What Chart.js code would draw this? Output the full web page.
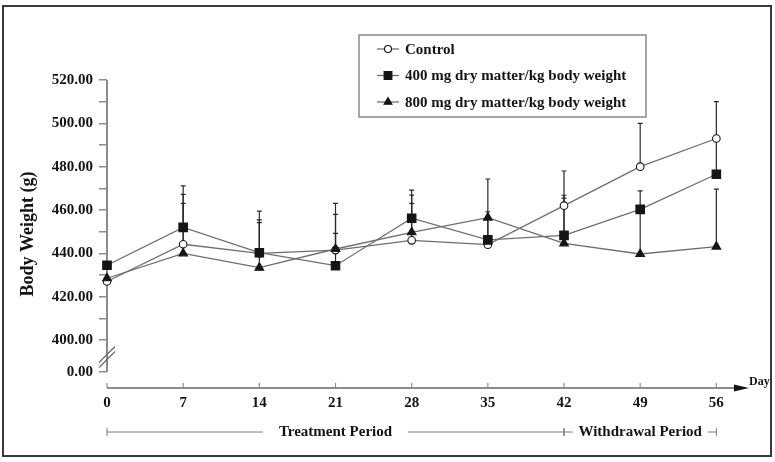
<!DOCTYPE html>
<html><head><meta charset="utf-8">
<script src="https://cdn.jsdelivr.net/npm/chart.js@4"></script>
<style>html,body{margin:0;padding:0;background:#fff}#wrap{width:775px;height:462px;position:relative}</style>
</head><body><div id="wrap"><canvas id="c" width="775" height="462"></canvas></div>
<script>
// ---- data ----
const days = [0, 7, 14, 21, 28, 35, 42, 49, 56];
const dayTicks = [0, 7, 14, 21, 28, 35, 42, 49, 56];
const seriesNames = ['Control', '400 mg dry matter/kg body weight', '800 mg dry matter/kg body weight'];
const control = [427.0, 444.2, 440.0, 441.5, 446.0, 444.0, 462.0, 480.0, 493.0];
const dose400 = [434.5, 452.0, 440.3, 434.3, 456.2, 446.2, 448.3, 460.3, 476.5];
const dose800 = [428.5, 440.0, 433.4, 442.0, 449.7, 456.5, 444.6, 439.7, 443.1];
const controlSD = [null, 23.0, 15.4, 16.5, 17.1, 12.0, 16.0, 20.0, 17.0];
const dose400SD = [null, 19.1, 19.2, 14.9, 13.0, 13.0, 18.5, 8.5, 16.5];
const dose800SD = [null, 23.1, 20.8, 21.1, 17.2, 17.8, 20.9, 20.3, 26.5];
const yMajorTicks = [400, 420, 440, 460, 480, 500, 520];
const yMinorTicks = [410, 430, 450, 470, 490, 510];
const axisBreakValue = 385.2;      // where the broken-axis "0.00" label sits
const axisBreakLabel = '0.00';
const xAxisTitle = 'Day';
const yAxisTitle = 'Body Weight (g)';
const periods = [
  { label: 'Treatment Period', from: 0, to: 42 },
  { label: 'Withdrawal Period', from: 42, to: 56 }
];

const SERIF = "'Liberation Serif', 'Times New Roman', serif";
const LINE_GRAY = '#6e6e6e';
const AXIS_GRAY = '#8c8c8c';
const INK = '#141414';

const styles = [
  { pointStyle: 'circle', pointRadius: 3.8, pointBackgroundColor: '#fff', order: 2 },
  { pointStyle: 'rect', pointRadius: 6.0, pointBackgroundColor: INK, order: 0 },
  { pointStyle: 'triangle', pointRadius: 5.0, pointBackgroundColor: INK, order: 1 }
];
const seriesValues = [control, dose400, dose800];
const seriesSD = [controlSD, dose400SD, dose800SD];

const datasets = seriesValues.map((vals, k) => ({
  label: seriesNames[k],
  data: days.map((d, i) => ({ x: d, y: vals[i] })),
  sd: seriesSD[k],
  borderColor: LINE_GRAY,
  borderWidth: 1.3,
  pointStyle: styles[k].pointStyle,
  pointRadius: styles[k].pointRadius,
  pointBackgroundColor: styles[k].pointBackgroundColor,
  pointBorderColor: INK,
  pointBorderWidth: 1.1,
  fill: false,
  tension: 0,
  clip: false,
  order: styles[k].order
}));

function drawMarker(ctx, style, x, y, r, fill) {
  ctx.save();
  ctx.fillStyle = fill; ctx.strokeStyle = INK; ctx.lineWidth = 1.1;
  ctx.beginPath();
  if (style === 'circle') {
    ctx.arc(x, y, r, 0, Math.PI * 2);
  } else if (style === 'rect') {
    const s = Math.SQRT1_2 * r;
    ctx.rect(x - s, y - s, 2 * s, 2 * s);
  } else {
    for (let j = 0; j < 3; j++) {
      const a = j * 2 * Math.PI / 3;
      const px = x + Math.sin(a) * r, py = y - Math.cos(a) * r;
      j ? ctx.lineTo(px, py) : ctx.moveTo(px, py);
    }
    ctx.closePath();
  }
  ctx.fill(); ctx.stroke();
  ctx.restore();
}

const decorations = {
  id: 'decorations',
  beforeDatasetsDraw(chart) {
    const { ctx, chartArea: ca, scales: { x, y } } = chart;
    ctx.save();
    // y axis line (ends at broken-axis zero)
    const yTop = y.getPixelForValue(yMajorTicks[yMajorTicks.length - 1]);
    const yZero = y.getPixelForValue(axisBreakValue);
    ctx.strokeStyle = AXIS_GRAY; ctx.lineWidth = 2;
    ctx.beginPath(); ctx.moveTo(ca.left, yTop); ctx.lineTo(ca.left, yZero); ctx.stroke();
    // break mark
    const yb = (y.getPixelForValue(400) + yZero) / 2 + 1;
    ctx.lineWidth = 1.2; ctx.strokeStyle = '#6a6a6a';
    [-2.5, 2.5].forEach(k => {
      ctx.beginPath();
      ctx.moveTo(ca.left - 8, yb + 8 + k);
      ctx.lineTo(ca.left + 8, yb - 8 + k);
      ctx.stroke();
    });
    // x axis line
    const xb = ca.bottom;
    ctx.strokeStyle = AXIS_GRAY; ctx.lineWidth = 2;
    ctx.beginPath(); ctx.moveTo(ca.left, xb); ctx.lineTo(ca.right - 10, xb); ctx.stroke();
    ctx.lineWidth = 1.2;
    dayTicks.forEach(d => {
      const px = x.getPixelForValue(d);
      ctx.beginPath(); ctx.moveTo(px, xb - 5); ctx.lineTo(px, xb); ctx.stroke();
    });
    // arrow
    ctx.fillStyle = INK;
    ctx.beginPath();
    ctx.moveTo(ca.right, xb);
    ctx.lineTo(ca.right - 15, xb - 3.5);
    ctx.lineTo(ca.right - 15, xb + 3.5);
    ctx.closePath(); ctx.fill();
    ctx.font = 'bold 12px ' + SERIF;
    ctx.textAlign = 'left'; ctx.textBaseline = 'middle';
    ctx.fillText(xAxisTitle, ca.right, xb - 6);

    // error bars (upper SD whiskers)
    ctx.strokeStyle = '#2a2a2a';
    ctx.lineWidth = 1.2;
    chart.data.datasets.forEach(ds => {
      ds.data.forEach((pt, i) => {
        const sd = ds.sd[i];
        if (sd == null) return;
        const px = x.getPixelForValue(pt.x);
        const py = y.getPixelForValue(pt.y);
        const pt2 = y.getPixelForValue(pt.y + sd);
        ctx.beginPath();
        ctx.moveTo(px, py); ctx.lineTo(px, pt2);
        ctx.moveTo(px - 2.5, pt2); ctx.lineTo(px + 2.5, pt2);
        ctx.stroke();
      });
    });
    ctx.restore();
  },
  afterDraw(chart) {
    const { ctx, chartArea: ca, scales: { x } } = chart;
    ctx.save();
    // period annotation
    const yp = ca.bottom + 44;
    ctx.font = 'bold 15px ' + SERIF;
    ctx.textAlign = 'center'; ctx.textBaseline = 'middle';
    ctx.strokeStyle = '#7a7a7a'; ctx.lineWidth = 1;
    periods.forEach(p => {
      const a = x.getPixelForValue(p.from), b = x.getPixelForValue(p.to);
      const w = ctx.measureText(p.label).width;
      const cx = (a + b) / 2;
      const space = (b - a - w) / 2;
      const gap = Math.min(16, space * 0.4);
      ctx.beginPath();
      ctx.moveTo(a, yp); ctx.lineTo(cx - w / 2 - gap, yp);
      ctx.moveTo(cx + w / 2 + gap, yp); ctx.lineTo(b, yp);
      ctx.moveTo(a, yp - 4); ctx.lineTo(a, yp + 4);
      ctx.moveTo(b, yp - 4); ctx.lineTo(b, yp + 4);
      ctx.stroke();
      ctx.fillStyle = INK;
      ctx.fillText(p.label, cx, yp);
    });
    // legend box
    const L = { x: 359, y: 35, w: 287, h: 82 };
    ctx.fillStyle = '#fff';
    ctx.fillRect(L.x, L.y, L.w, L.h);
    ctx.strokeStyle = '#8a8a8a'; ctx.lineWidth = 1.5;
    ctx.strokeRect(L.x, L.y, L.w, L.h);
    ctx.font = 'bold 15px ' + SERIF;
    ctx.textAlign = 'left'; ctx.textBaseline = 'middle';
    chart.data.datasets.forEach((ds, k) => {
      const ry = L.y + 14 + k * 26.5;
      ctx.strokeStyle = LINE_GRAY; ctx.lineWidth = 1.3;
      ctx.beginPath(); ctx.moveTo(L.x + 18, ry); ctx.lineTo(L.x + 40, ry); ctx.stroke();
      drawMarker(ctx, ds.pointStyle, L.x + 29, ry, ds.pointStyle === 'rect' ? 5.5 : (ds.pointStyle === 'circle' ? 3.5 : 4.5), ds.pointBackgroundColor);
      ctx.fillStyle = INK;
      ctx.fillText(ds.label, L.x + 46, ry + 1);
    });
    // outer frame
    ctx.strokeStyle = '#3a3a3a'; ctx.lineWidth = 2;
    ctx.strokeRect(3, 6, 768, 450);
    ctx.restore();
  }
};

new Chart(document.getElementById('c'), {
  type: 'line',
  data: { datasets },
  options: {
    responsive: false,
    animation: false,
    layout: { padding: { top: 80, right: 26, left: 0, bottom: 0 } },
    plugins: { legend: { display: false }, tooltip: { enabled: false } },
    scales: {
      x: {
        type: 'linear', min: 0, max: 59,
        afterBuildTicks: s => { s.ticks = dayTicks.map(v => ({ value: v })); },
        grid: { display: false, drawTicks: false },
        border: { display: false },
        ticks: { font: { family: SERIF, weight: 'bold', size: 15 }, color: INK, padding: 6, maxRotation: 0, autoSkip: false, callback: v => String(v) },
        afterFit: s => { s.height = 74; }
      },
      y: {
        type: 'linear', min: 377.85, max: 520,
        afterBuildTicks: s => {
          s.ticks = [axisBreakValue, ...yMajorTicks, ...yMinorTicks].sort((a, b) => a - b).map(v => ({ value: v }));
        },
        grid: { drawOnChartArea: false, drawTicks: true, tickLength: 8, color: AXIS_GRAY, lineWidth: 1.5 },
        border: { display: false },
        ticks: {
          autoSkip: false, padding: 6, color: INK,
          font: { family: SERIF, weight: 'bold', size: 15 },
          callback: v => v === axisBreakValue ? axisBreakLabel : (yMajorTicks.includes(v) ? v.toFixed(2) : '')
        },
        title: { display: true, text: yAxisTitle, color: INK, font: { family: SERIF, weight: 'bold', size: 18 }, padding: { top: 18, bottom: 0 } },
        afterFit: s => { s.width = 107; }
      }
    }
  },
  plugins: [decorations]
});
</script>
</body></html>
